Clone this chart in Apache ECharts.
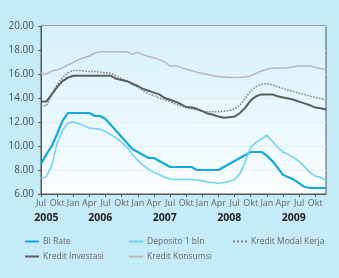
<!DOCTYPE html>
<html>
<head>
<meta charset="utf-8">
<script src="https://cdn.jsdelivr.net/npm/echarts@6/dist/echarts.min.js"></script>
<style>
  html, body { margin: 0; padding: 0; background: #c6ebf8; }
  #chart { width: 339px; height: 278px; }
</style>
</head>
<body>
<div id="chart"></div>
<script>
// monthly, Jul 2005 - Des 2009
const monthNames = ['Jan', 'Feb', 'Mar', 'Apr', 'Mei', 'Jun', 'Jul', 'Agu', 'Sep', 'Okt', 'Nov', 'Des'];
const months = [];
for (let y = 2005; y <= 2009; y++) {
  for (let m = 0; m < 12; m++) {
    if (y === 2005 && m < 6) continue;
    months.push(monthNames[m] + '-' + y);
  }
}

// where the year labels sit (index into months)
const yearLabels = { 1: '2005', 11: '2006', 23: '2007', 35: '2008', 47: '2009' };

const yTicks = [6, 8, 10, 12, 14, 16, 18, 20];

const biRate = [8.5, 9.3, 10.0, 11.0, 12.1, 12.75, 12.75, 12.75, 12.75, 12.75, 12.5, 12.5,
  12.25, 11.75, 11.25, 10.75, 10.25, 9.75, 9.5, 9.25, 9.0, 9.0, 8.75, 8.5,
  8.25, 8.25, 8.25, 8.25, 8.25, 8.0, 8.0, 8.0, 8.0, 8.0, 8.25, 8.5,
  8.75, 9.0, 9.25, 9.5, 9.5, 9.5, 9.2, 8.75, 8.2, 7.6, 7.4, 7.2,
  6.9, 6.6, 6.5, 6.5, 6.5, 6.5];

const deposito = [7.3, 7.45, 8.4, 10.2, 11.3, 11.9, 12.0, 11.85, 11.7, 11.5, 11.45, 11.4,
  11.2, 10.95, 10.65, 10.3, 9.9, 9.3, 8.8, 8.4, 8.05, 7.8, 7.6, 7.4,
  7.25, 7.2, 7.2, 7.2, 7.2, 7.15, 7.1, 7.0, 6.95, 6.9, 6.95, 7.05,
  7.2, 7.7, 8.7, 9.9, 10.3, 10.6, 10.9, 10.4, 9.9, 9.5, 9.3, 9.05,
  8.7, 8.3, 7.8, 7.5, 7.4, 7.1];

const modalKerja = [13.35, 13.35, 14.3, 15.1, 15.7, 16.1, 16.3, 16.3, 16.25, 16.2, 16.2, 16.15,
  16.1, 16.05, 15.85, 15.6, 15.4, 15.1, 14.9, 14.6, 14.35, 14.2, 14.0, 13.85,
  13.7, 13.5, 13.35, 13.2, 13.1, 13.0, 12.9, 12.85, 12.85, 12.85, 12.9, 12.95,
  13.1, 13.4, 14.0, 14.6, 14.95, 15.15, 15.2, 15.1, 14.95, 14.8, 14.65, 14.55,
  14.4, 14.3, 14.15, 14.05, 13.95, 13.85];

const investasi = [13.7, 13.7, 14.3, 14.9, 15.4, 15.7, 15.85, 15.85, 15.85, 15.85, 15.85, 15.85,
  15.85, 15.85, 15.6, 15.5, 15.4, 15.2, 15.0, 14.75, 14.6, 14.45, 14.3, 14.0,
  13.85, 13.7, 13.5, 13.25, 13.2, 13.1, 12.9, 12.7, 12.6, 12.45, 12.35, 12.4,
  12.45, 12.75, 13.2, 13.8, 14.15, 14.3, 14.3, 14.3, 14.15, 14.05, 13.95, 13.85,
  13.7, 13.55, 13.4, 13.2, 13.15, 13.05];

const konsumsi = [16.05, 16.0, 16.25, 16.35, 16.5, 16.75, 16.95, 17.2, 17.35, 17.5, 17.75, 17.85,
  17.85, 17.85, 17.85, 17.85, 17.85, 17.65, 17.8, 17.6, 17.45, 17.35, 17.2, 17.0,
  16.65, 16.7, 16.55, 16.4, 16.3, 16.15, 16.05, 15.95, 15.85, 15.8, 15.75, 15.7,
  15.7, 15.72, 15.75, 15.85, 16.05, 16.25, 16.4, 16.47, 16.5, 16.5, 16.53, 16.6,
  16.67, 16.67, 16.67, 16.55, 16.45, 16.4];

const font = 'Open Sans';

const lineSeries = (name, data, color, width, dash) => ({
  name: name,
  type: 'line',
  data: data,
  symbol: 'none',
  smooth: false,
  z: 3,
  lineStyle: { color: color, width: width, type: dash || 'solid' },
  itemStyle: { color: color }
});

// one legend per slot so the items line up in columns
const legendAt = (name, left, top) => ({
  data: [name],
  left: left,
  top: top,
  itemWidth: 14,
  itemHeight: 8,
  itemGap: 0,
  padding: 0,
  itemStyle: { opacity: 0 },   // hide the circle, keep the line
  textStyle: { fontFamily: font, fontSize: 8.5, color: '#666', padding: [0, 0, 0, -1] }
});

const option = {
  backgroundColor: '#c6ebf8',
  animation: false,
  grid: {
    left: 41,
    right: 13,
    top: 26,
    bottom: 84,
    show: true,
    borderColor: '#555',
    borderWidth: 1,
    backgroundColor: {
      type: 'linear', x: 0, y: 0, x2: 0, y2: 1,
      colorStops: [
        { offset: 0, color: '#d4f0fb' },
        { offset: 1, color: '#fbfeff' }
      ]
    }
  },
  legend: [
    legendAt('BI Rate', 24, 237),
    legendAt('Deposito 1 bln', 128, 237),
    legendAt('Kredit Modal Kerja', 232, 237),
    legendAt('Kredit Investasi', 24, 252),
    legendAt('Kredit Konsumsi', 128, 252)
  ],
  xAxis: [
    {
      type: 'category',
      data: months,
      boundaryGap: false,
      axisLine: { lineStyle: { color: '#555', width: 1 } },
      axisTick: {
        length: 3,
        interval: (i) => i % 3 === 0,
        lineStyle: { color: '#555' }
      },
      axisLabel: {
        interval: (i) => i % 3 === 0,
        margin: 5,
        fontFamily: font,
        fontSize: 9,
        color: '#666',
        formatter: (v) => v.split('-')[0]
      },
      splitLine: { show: false }
    },
    {
      type: 'category',
      data: months,
      position: 'bottom',
      offset: 14,
      boundaryGap: false,
      axisLine: { show: false },
      axisTick: { show: false },
      axisLabel: {
        interval: 0,
        margin: 5,
        fontFamily: font,
        fontSize: 10.5,
        fontWeight: 'bold',
        color: '#222',
        formatter: (v, i) => yearLabels[i] || ''
      },
      splitLine: { show: false }
    }
  ],
  yAxis: {
    type: 'value',
    min: yTicks[0],
    max: yTicks[yTicks.length - 1],
    interval: 2,
    axisLine: { show: true, lineStyle: { color: '#555', width: 1 } },
    axisTick: { show: true, length: 3, lineStyle: { color: '#555' } },
    axisLabel: {
      margin: 7,
      fontFamily: font,
      fontSize: 10,
      color: '#4a4a4a',
      formatter: (v) => v.toFixed(2)
    },
    splitLine: { lineStyle: { color: '#e3eef3', width: 1 } }
  },
  series: [
    lineSeries('BI Rate', biRate, '#14a9dd', 2.2),
    lineSeries('Deposito 1 bln', deposito, '#6dd1f1', 1.5),
    lineSeries('Kredit Modal Kerja', modalKerja, '#7c7c7c', 1.5, 'dotted'),
    lineSeries('Kredit Investasi', investasi, '#5c5c5c', 2),
    lineSeries('Kredit Konsumsi', konsumsi, '#b8b8b8', 1.5)
  ]
};

const myChart = echarts.init(document.getElementById('chart'));
myChart.setOption(option);
</script>
</body>
</html>
